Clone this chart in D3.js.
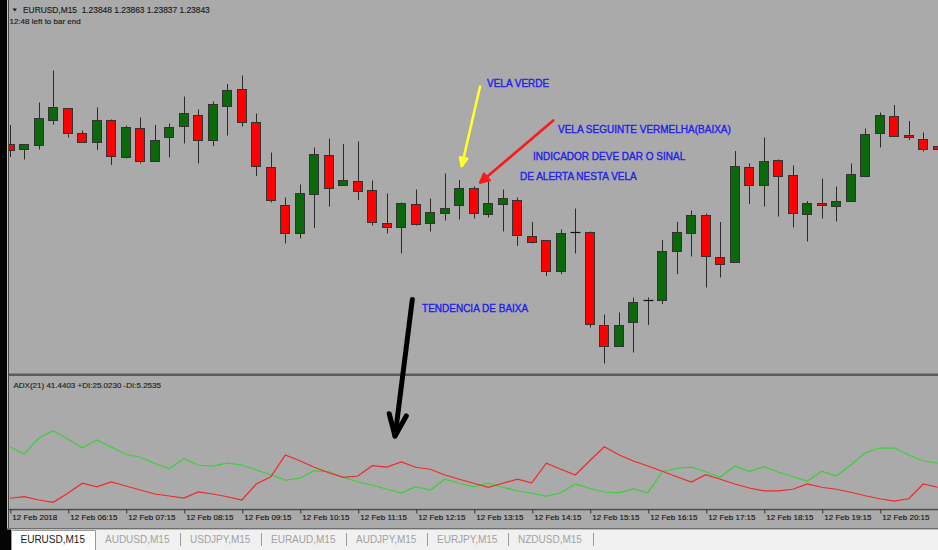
<!DOCTYPE html>
<html><head><meta charset="utf-8">
<script src="https://cdn.jsdelivr.net/npm/d3@7"></script>
<style>
html,body{margin:0;padding:0;background:#aaaaaa;overflow:hidden}
svg{display:block}
text{font-family:"Liberation Sans",Arial,sans-serif}
</style></head><body>
<svg id="c" width="938" height="550"></svg>
<script>
// ---------- DATA ----------
const symbol = "EURUSD,M15";
const times = ["05:15","05:30","05:45","06:00","06:15","06:30","06:45","07:00","07:15","07:30","07:45","08:00","08:15","08:30","08:45","09:00","09:15","09:30","09:45","10:00","10:15","10:30","10:45","11:00","11:15","11:30","11:45","12:00","12:15","12:30","12:45","13:00","13:15","13:30","13:45","14:00","14:15","14:30","14:45","15:00","15:15","15:30","15:45","16:00","16:15","16:30","16:45","17:00","17:15","17:30","17:45","18:00","18:15","18:30","18:45","19:00","19:15","19:30","19:45","20:00","20:15","20:30","20:45","21:00","21:15"];
const open = [
1.23852,1.23841,1.23850,1.23900,1.23924,1.23874,1.23857,1.23899,1.23825,1.23885,
1.23819,1.23866,1.23888,1.23910,1.23859,1.23929,1.23961,1.23896,1.23805,1.23731,
1.23674,1.23751,1.23830,1.23770,1.23778,1.23760,1.23694,1.23687,1.23732,1.23693,
1.23713,1.23729,1.23765,1.23712,1.23732,1.23741,1.23668,1.23660,1.23599,1.23675,
1.23675,1.23489,1.23447,1.23495,1.23539,1.23541,1.23638,1.23673,1.23711,1.23625,
1.23615,1.23805,1.23770,1.23820,1.23790,1.23712,1.23733,1.23727,1.23737,1.23789,
1.23873,1.23908,1.23870,1.23863,1.23848];
const high = [
1.23890,1.23852,1.23935,1.23999,1.23924,1.23879,1.23925,1.23901,1.23889,1.23905,
1.23890,1.23893,1.23947,1.23921,1.23937,1.23972,1.23989,1.23913,1.23835,1.23745,
1.23771,1.23845,1.23863,1.23852,1.23857,1.23779,1.23753,1.23735,1.23761,1.23743,
1.23793,1.23780,1.23767,1.23783,1.23761,1.23745,1.23696,1.23660,1.23681,1.23723,
1.23677,1.23511,1.23515,1.23545,1.23545,1.23660,1.23696,1.23719,1.23713,1.23696,
1.23838,1.23813,1.23865,1.23821,1.23809,1.23738,1.23783,1.23767,1.23813,1.23883,
1.23915,1.23930,1.23898,1.23875,1.23863];
const low = [
1.23826,1.23821,1.23841,1.23891,1.23865,1.23855,1.23840,1.23810,1.23823,1.23813,
1.23819,1.23825,1.23853,1.23813,1.23848,1.23869,1.23887,1.23788,1.23735,1.23653,
1.23663,1.23684,1.23727,1.23768,1.23740,1.23689,1.23673,1.23633,1.23689,1.23677,
1.23699,1.23701,1.23703,1.23705,1.23677,1.23648,1.23653,1.23588,1.23592,1.23633,
1.23485,1.23413,1.23447,1.23435,1.23490,1.23532,1.23592,1.23627,1.23565,1.23585,
1.23615,1.23732,1.23727,1.23707,1.23685,1.23657,1.23703,1.23697,1.23737,1.23789,
1.23845,1.23868,1.23860,1.23837,1.23837];
const close = [
1.23839,1.23852,1.23903,1.23926,1.23873,1.23855,1.23901,1.23828,1.23887,1.23819,
1.23861,1.23886,1.23913,1.23860,1.23932,1.23960,1.23897,1.23807,1.23741,1.23673,
1.23754,1.23831,1.23763,1.23780,1.23759,1.23695,1.23685,1.23735,1.23692,1.23715,
1.23725,1.23764,1.23713,1.23733,1.23744,1.23669,1.23655,1.23598,1.23673,1.23675,
1.23491,1.23448,1.23490,1.23535,1.23539,1.23637,1.23675,1.23709,1.23627,1.23613,
1.23807,1.23770,1.23818,1.23787,1.23714,1.23733,1.23729,1.23737,1.23792,1.23872,
1.23910,1.23868,1.23865,1.23843,1.23843];
const plusDI = [25.3,22.4,28.8,31.7,28.4,24.9,28.0,25.2,22.3,21.1,
18.7,16.5,20.5,18.0,17.6,18.7,18.0,16.0,14.1,12.0,
12.7,15.7,15.3,13.1,11.3,9.9,8.4,6.8,9.3,8.0,
12.3,10.7,9.3,10.7,9.1,7.7,6.7,5.6,6.9,10.4,
8.7,7.2,6.9,8.4,6.9,15.3,16.7,17.1,15.3,13.1,
17.6,15.5,17.3,15.2,13.3,11.6,15.5,13.6,18.0,22.9,
24.8,24.8,22.0,19.6,18.7];
const minusDI = [4.7,5.3,4.0,3.1,6.7,10.7,9.3,11.2,9.6,8.0,
6.4,5.6,4.8,7.2,6.4,5.3,4.0,10.4,13.3,22.0,
19.7,17.1,14.9,13.1,13.6,17.7,17.2,19.2,17.1,16.3,
14.0,12.3,10.7,9.1,10.7,12.3,10.9,18.7,16.3,14.0,
19.7,25.3,22.1,19.6,17.6,15.5,13.3,11.2,14.1,12.3,
10.4,8.8,7.7,7.7,8.3,10.4,9.1,8.3,7.1,5.7,
4.5,3.6,4.5,10.4,9.1];
const adxPeriod = 21, adxValue = 41.4403, plusDIValue = 25.0230, minusDIValue = 5.2535;
const tickTimes = ["05:15","06:15","07:15","08:15","09:15","10:15","11:15","12:15","13:15","14:15","15:15","16:15","17:15","18:15","19:15","20:15","21:15"];
const tickLabels = ["12 Feb 2018","12 Feb 06:15","12 Feb 07:15","12 Feb 08:15","12 Feb 09:15","12 Feb 10:15","12 Feb 11:15","12 Feb 12:15","12 Feb 13:15","12 Feb 14:15","12 Feb 15:15","12 Feb 16:15","12 Feb 17:15","12 Feb 18:15","12 Feb 19:15","12 Feb 20:15","12 Feb 21:15"];
const tabs = ["EURUSD,M15","AUDUSD,M15","USDJPY,M15","EURAUD,M15","AUDJPY,M15","EURJPY,M15","NZDUSD,M15"];
const timeLeft = "12:48 left to bar end";

// ---------- LAYOUT ----------
const svg = d3.select("#c");
const W = 938, H = 550;
const L = 9, R = 938, mainTop = 0, mainBot = 374, subTop = 377, subBot = 509.5;

const x = d3.scalePoint().domain(times).range([9.8, 937.8]);
const xi = d3.scaleLinear().domain([0, times.length - 1]).range(x.range());
const y = d3.scaleLinear().domain([1.23392, 1.24140]).range([mainBot, mainTop]);
const yDI = d3.scaleLinear().domain([0, 53.2]).range([510, 377]);

svg.append("rect").attr("width", W).attr("height", H).attr("fill", "#aaaaaa");

const defs = svg.append("defs");
defs.append("clipPath").attr("id", "clipMain").append("rect").attr("x", L).attr("y", mainTop).attr("width", R - L).attr("height", mainBot - mainTop);
defs.append("clipPath").attr("id", "clipSub").append("rect").attr("x", L).attr("y", subTop).attr("width", R - L).attr("height", subBot - subTop);

// ---------- CANDLES ----------
const candles = times.map((t, i) => ({ t, o: open[i], h: high[i], l: low[i], c: close[i] }));
const gMain = svg.append("g").attr("clip-path", "url(#clipMain)");
const px = d => Math.round(x(d.t));
gMain.selectAll("line.wick").data(candles).join("line").attr("class", "wick")
  .attr("x1", d => px(d) + 0.5).attr("x2", d => px(d) + 0.5)
  .attr("y1", d => y(d.h)).attr("y2", d => y(d.l))
  .attr("stroke", "#2b2b2b").attr("stroke-width", 1);
const bodies = candles.filter(d => d.o !== d.c);
gMain.selectAll("rect.body").data(bodies).join("rect").attr("class", "body")
  .attr("x", d => px(d) - 4.5).attr("width", 9)
  .attr("y", d => Math.round(y(Math.max(d.o, d.c))) + 0.5)
  .attr("height", d => Math.max(1, Math.round(y(Math.min(d.o, d.c))) - Math.round(y(Math.max(d.o, d.c)))))
  .attr("fill", d => d.c > d.o ? "#0b690b" : "#ff0000")
  .attr("stroke", "#333333").attr("stroke-width", 1);
const dojis = candles.filter(d => d.o === d.c);
gMain.selectAll("line.doji").data(dojis).join("line").attr("class", "doji")
  .attr("x1", d => px(d) - 4.5).attr("x2", d => px(d) + 5.5)
  .attr("y1", d => Math.round(y(d.o)) + 0.5).attr("y2", d => Math.round(y(d.o)) + 0.5)
  .attr("stroke", "#111").attr("stroke-width", 1.2);

// ---------- ADX SUB WINDOW ----------
const gSub = svg.append("g").attr("clip-path", "url(#clipSub)");
const line = d3.line().x(d => x(d.t)).y(d => yDI(d.v));
gSub.append("path").datum(times.map((t, i) => ({ t, v: plusDI[i] })))
  .attr("d", line).attr("fill", "none").attr("stroke", "#3ccf3c").attr("stroke-width", 1.25);
gSub.append("path").datum(times.map((t, i) => ({ t, v: minusDI[i] })))
  .attr("d", line).attr("fill", "none").attr("stroke", "#f02a2a").attr("stroke-width", 1.25);

// separators / frame
svg.append("rect").attr("x", L).attr("y", 373.5).attr("width", R - L).attr("height", 2.5).attr("fill", "#5c5c5c");
svg.append("rect").attr("x", L).attr("y", 508.8).attr("width", R - L).attr("height", 1.5).attr("fill", "#4e4e4e");

// time axis
const axis = d3.axisBottom(x).tickValues(tickTimes).tickSize(4).tickPadding(0)
  .tickFormat(t => tickLabels[tickTimes.indexOf(t)]);
const gAx = svg.append("g").attr("transform", "translate(0,509.5)").call(axis);
gAx.select(".domain").remove();
gAx.selectAll(".tick line").attr("stroke", "#333").attr("transform", "translate(0.5,0)");
gAx.selectAll(".tick text").attr("text-anchor", "start").attr("dx", 2).attr("y", 5)
  .attr("font-size", 8).attr("font-family", "'Liberation Sans', Arial, sans-serif").attr("fill", "#151515")
  .attr("stroke", "#151515").attr("stroke-width", 0.15);

// left frame
svg.append("rect").attr("x", 0).attr("y", 0).attr("width", 7).attr("height", H).attr("fill", "#050505");
svg.append("rect").attr("x", 7).attr("y", 0).attr("width", 1).attr("height", 528).attr("fill", "#c4c4c4");
svg.append("rect").attr("x", 8).attr("y", 0).attr("width", 1).attr("height", 528).attr("fill", "#4a4a4a");

// ---------- HEADER ----------
const fmt = d3.format(".5f");
const last = times.length - 1;
svg.append("path").attr("d", "M12.5,8.5L17,8.5L14.75,11.5Z").attr("fill", "#1a1a1a");
svg.append("text").attr("x", 23).attr("y", 12.5).attr("font-size", 8.4).attr("fill", "#1a1a1a")
  .attr("stroke", "#1a1a1a").attr("stroke-width", 0.15)
  .style("white-space", "pre")
  .text(`${symbol}  ${fmt(open[last])} ${fmt(high[last])} ${fmt(low[last])} ${fmt(close[last])}`);
svg.append("text").attr("x", 9.5).attr("y", 24).attr("font-size", 8).attr("fill", "#1a1a1a")
  .attr("stroke", "#1a1a1a").attr("stroke-width", 0.15).text(timeLeft);
svg.append("text").attr("x", 13.5).attr("y", 388).attr("font-size", 8).attr("fill", "#1e1e1e")
  .attr("stroke", "#1e1e1e").attr("stroke-width", 0.15)
  .text(`ADX(${adxPeriod}) ${adxValue.toFixed(4)} +DI:${plusDIValue.toFixed(4)} -DI:${minusDIValue.toFixed(4)}`);

// ---------- ANNOTATIONS (anchored in candle-index / price space) ----------
const gAnn = svg.append("g");
function arrow(from, to, color, w, len, angDeg, filled) {
  const x1 = xi(from[0]), y1 = y(from[1]), x2 = xi(to[0]), y2 = y(to[1]);
  gAnn.append("line").attr("x1", x1).attr("y1", y1).attr("x2", x2).attr("y2", y2)
    .attr("stroke", color).attr("stroke-width", w).attr("stroke-linecap", "round");
  const a = Math.atan2(y1 - y2, x1 - x2), ang = angDeg * Math.PI / 180;
  const p1 = [x2 + len * Math.cos(a + ang), y2 + len * Math.sin(a + ang)];
  const p2 = [x2 + len * Math.cos(a - ang), y2 + len * Math.sin(a - ang)];
  gAnn.append("path").attr("d", `M${p1}L${x2},${y2}L${p2}` + (filled ? "Z" : ""))
    .attr("fill", filled ? color : "none").attr("stroke", color).attr("stroke-width", w)
    .attr("stroke-linejoin", "round").attr("stroke-linecap", "round");
}
arrow([32.43, 1.23967], [31.17, 1.23808], "#ffff2e", 2.6, 9, 24, true);
arrow([37.48, 1.23899], [32.45, 1.23775], "#f51c1c", 2.6, 9.5, 27, true);
arrow([27.76, 1.23541], [26.57, 1.23268], "#000000", 5, 23, 22, false);

const notes = [
  { text: "VELA VERDE", at: [32.91, 1.23966] },
  { text: "VELA SEGUINTE VERMELHA(BAIXA)", at: [37.81, 1.23875] },
  { text: "INDICADOR DEVE DAR O SINAL", at: [36.08, 1.23820] },
  { text: "DE ALERTA NESTA VELA", at: [35.19, 1.23780] },
  { text: "TENDENCIA DE BAIXA", at: [28.43, 1.23517] }
];
gAnn.selectAll("text.note").data(notes).join("text").attr("class", "note")
  .attr("x", d => xi(d.at[0])).attr("y", d => y(d.at[1]))
  .attr("font-size", 10).attr("fill", "#2020ec").attr("stroke", "#2020ec").attr("stroke-width", 0.35)
  .text(d => d.text);

// ---------- TAB BAR ----------
svg.append("rect").attr("x", 7).attr("y", 528).attr("width", W - 7).attr("height", 1.5).attr("fill", "#6e6e6e");
svg.append("rect").attr("x", 7).attr("y", 529.5).attr("width", W - 7).attr("height", 20.5).attr("fill", "#f0f0f0");
svg.append("rect").attr("x", 0).attr("y", 529.5).attr("width", 11).attr("height", 20.5).attr("fill", "#050505");
const gTabs = svg.append("g");
gTabs.append("path").attr("d", "M11.5,550V530.5H95.5V550").attr("fill", "#ffffff").attr("stroke", "#9a9a9a").attr("stroke-width", 1);
let cursor = 20.5;
tabs.forEach((name, i) => {
  const t = gTabs.append("text").attr("x", cursor).attr("y", 543).attr("font-size", 10)
    .attr("fill", i === 0 ? "#1a1a1a" : "#a2a2a2").text(name);
  const w = t.node().getComputedTextLength();
  if (i === 0) { cursor = 105; return; }
  const sx = Math.round(cursor + w + 11) + 0.5;
  gTabs.append("line").attr("x1", sx).attr("x2", sx).attr("y1", 533).attr("y2", 546)
    .attr("stroke", "#9c9c9c").attr("stroke-width", 1);
  cursor = sx + 9.5;
});
</script>
</body></html>
